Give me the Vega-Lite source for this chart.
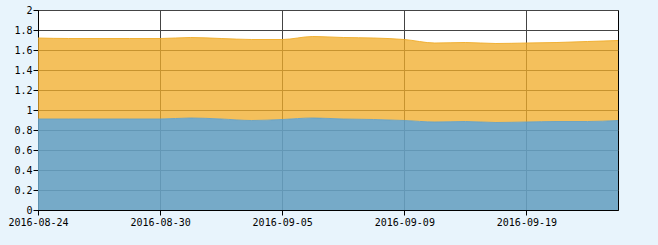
{
  "$schema": "https://vega.github.io/schema/vega-lite/v6.json",
  "width": 580,
  "height": 200,
  "autosize": {"type": "none"},
  "padding": {"left": 38, "top": 10, "right": 40, "bottom": 35},
  "background": "#e8f4fc",
  "config": {
    "view": {"stroke": "#000000", "strokeWidth": 1, "fill": "#ffffff"},
    "axis": {
      "labelFont": "DejaVu Sans Mono",
      "labelFontSize": 10,
      "labelColor": "#000000",
      "domainColor": "#000000",
      "tickColor": "#000000",
      "tickSize": 5,
      "gridColor": "#444444",
      "gridOpacity": 1,
      "title": null
    }
  },
  "data": {
    "values": [
      {"date": "2016-08-24", "s": "a", "v": 0.91}, {"date": "2016-08-24", "s": "b", "v": 0.81},
      {"date": "2016-08-25", "s": "a", "v": 0.91}, {"date": "2016-08-25", "s": "b", "v": 0.805},
      {"date": "2016-08-26", "s": "a", "v": 0.91}, {"date": "2016-08-26", "s": "b", "v": 0.805},
      {"date": "2016-08-29", "s": "a", "v": 0.91}, {"date": "2016-08-29", "s": "b", "v": 0.805},
      {"date": "2016-08-30", "s": "a", "v": 0.91}, {"date": "2016-08-30", "s": "b", "v": 0.805},
      {"date": "2016-08-31", "s": "a", "v": 0.92}, {"date": "2016-08-31", "s": "b", "v": 0.805},
      {"date": "2016-09-01", "s": "a", "v": 0.91}, {"date": "2016-09-01", "s": "b", "v": 0.805},
      {"date": "2016-09-02", "s": "a", "v": 0.895}, {"date": "2016-09-02", "s": "b", "v": 0.81},
      {"date": "2016-09-05", "s": "a", "v": 0.905}, {"date": "2016-09-05", "s": "b", "v": 0.80},
      {"date": "2016-09-06", "s": "a", "v": 0.92}, {"date": "2016-09-06", "s": "b", "v": 0.815},
      {"date": "2016-09-07", "s": "a", "v": 0.91}, {"date": "2016-09-07", "s": "b", "v": 0.815},
      {"date": "2016-09-08", "s": "a", "v": 0.905}, {"date": "2016-09-08", "s": "b", "v": 0.815},
      {"date": "2016-09-09", "s": "a", "v": 0.895}, {"date": "2016-09-09", "s": "b", "v": 0.81},
      {"date": "2016-09-12", "s": "a", "v": 0.88}, {"date": "2016-09-12", "s": "b", "v": 0.79},
      {"date": "2016-09-13", "s": "a", "v": 0.885}, {"date": "2016-09-13", "s": "b", "v": 0.79},
      {"date": "2016-09-14", "s": "a", "v": 0.875}, {"date": "2016-09-14", "s": "b", "v": 0.79},
      {"date": "2016-09-19", "s": "a", "v": 0.88}, {"date": "2016-09-19", "s": "b", "v": 0.79},
      {"date": "2016-09-20", "s": "a", "v": 0.885}, {"date": "2016-09-20", "s": "b", "v": 0.79},
      {"date": "2016-09-21", "s": "a", "v": 0.885}, {"date": "2016-09-21", "s": "b", "v": 0.80},
      {"date": "2016-09-22", "s": "a", "v": 0.895}, {"date": "2016-09-22", "s": "b", "v": 0.80}
    ]
  },
  "layer": [
    {
      "mark": {"type": "area", "interpolate": "monotone", "opacity": 1},
      "encoding": {
        "fillOpacity": {
          "field": "s",
          "type": "nominal",
          "scale": {"domain": ["a", "b"], "range": [0.9, 0.76]},
          "legend": null
        }
      }
    },
    {
      "mark": {"type": "line", "interpolate": "monotone", "color": "#ffffff", "strokeWidth": 1, "opacity": 0.9},
      "encoding": {}
    }
  ],
  "encoding": {
    "x": {
      "field": "date",
      "type": "ordinal",
      "scale": {"type": "point", "padding": 0},
      "axis": {
        "values": ["2016-08-24", "2016-08-30", "2016-09-05", "2016-09-09", "2016-09-19"],
        "labelAngle": 0,
        "labelPadding": 2,
        "grid": true
      }
    },
    "y": {
      "field": "v",
      "type": "quantitative",
      "stack": "zero",
      "scale": {"domain": [0, 2], "nice": false},
      "axis": {
        "values": [0, 0.2, 0.4, 0.6, 0.8, 1, 1.2, 1.4, 1.6, 1.8, 2],
        "format": "~g",
        "labelPadding": 1,
        "grid": true
      }
    },
    "color": {
      "field": "s",
      "type": "nominal",
      "scale": {"domain": ["a", "b"], "range": ["#67a1c2", "#f0ac29"]},
      "legend": null
    },
    "order": {"field": "s", "sort": "ascending"}
  }
}
